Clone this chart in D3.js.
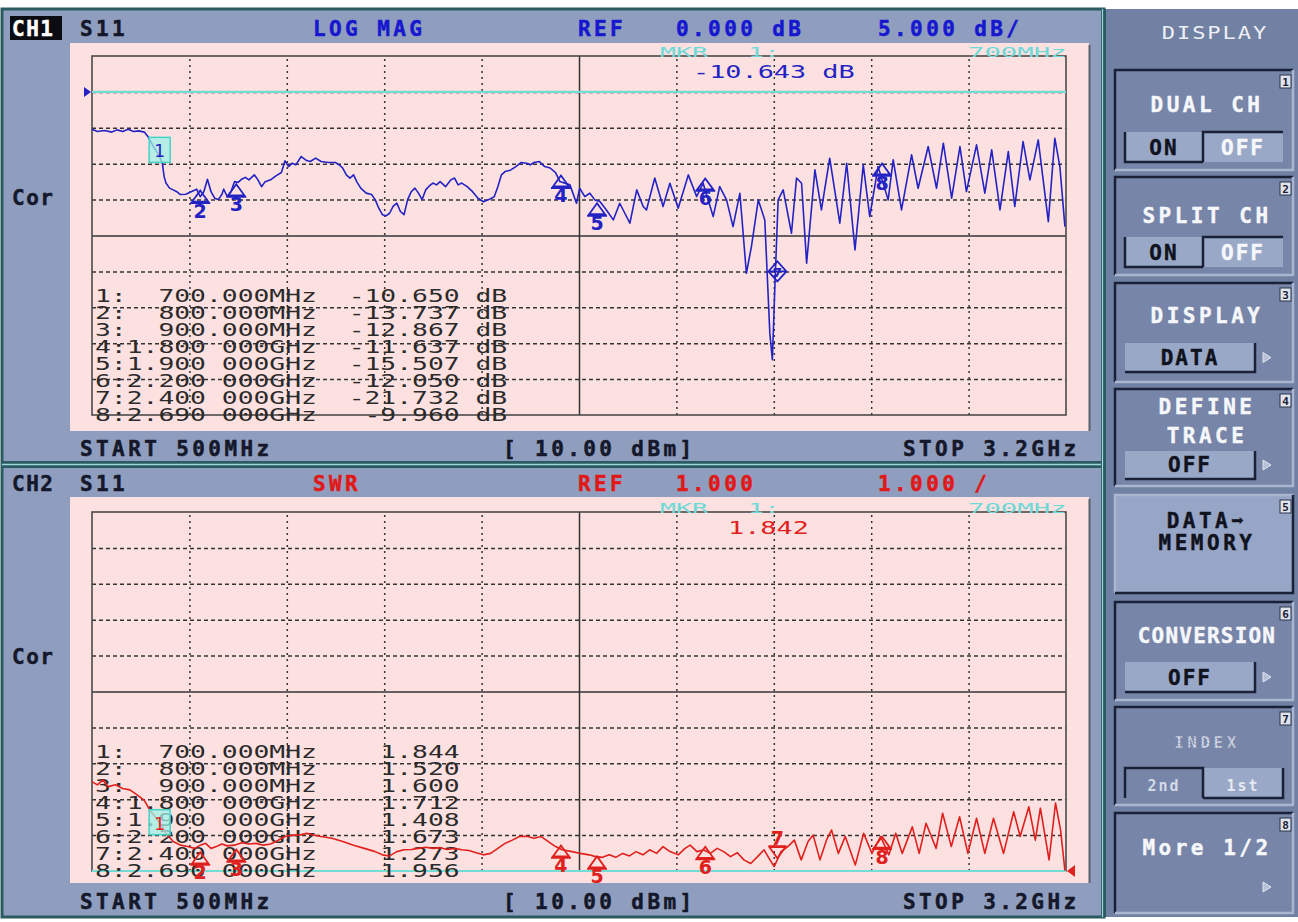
<!DOCTYPE html>
<html>
<head>
<meta charset="utf-8">
<script src="https://cdn.jsdelivr.net/npm/d3@7"></script>
<style>
body { margin: 0; background: #fff; }
svg { display: block; }
text { white-space: pre; }
</style>
</head>
<body>
<script>
var width = 1298, height = 922;

// CH1 : S11 LOG MAG, frequency in MHz, value in dB
var ch1Freq = [500,515,535,555,570,585,600,615,630,645,
  655,670,685,695,700,705,715,725,735,745,
  760,775,790,800,810,820,830,840,850,860,
  865,875,885,895,905,915,925,935,950,960,
  970,980,995,1010,1025,1035,1045,1055,1065,1080,
  1095,1105,1120,1135,1155,1175,1185,1195,1205,1215,
  1225,1235,1245,1260,1275,1285,1295,1305,1315,1325,
  1335,1345,1355,1365,1375,1385,1395,1405,1415,1425,
  1435,1445,1455,1465,1480,1495,1505,1515,1525,1540,
  1555,1570,1585,1600,1615,1625,1635,1645,1660,1675,
  1690,1705,1715,1725,1740,1755,1770,1785,1797,1825,
  1843,1852,1866,1880,1894,1908,1926,1945,1963,1977,
  1991,2010,2028,2037,2060,2083,2102,2125,2153,2176,
  2194,2222,2240,2259,2277,2296,2314,2328,2347,2365,
  2379,2386,2393,2402,2416,2439,2453,2467,2481,2504,
  2522,2545,2573,2592,2615,2638,2656,2679,2707,2721,
  2744,2772,2790,2818,2841,2860,2883,2906,2924,2952,
  2975,2994,3017,3040,3058,3081,3100,3123,3151,3169,
  3183,3197];
var ch1Db = [-5.20,-5.52,-5.38,-5.60,-5.29,-5.52,-5.20,-5.52,-5.43,-5.60,
  -6.20,-7.60,-8.77,-9.93,-11.80,-12.70,-13.40,-13.65,-13.90,-14.30,
  -14.25,-13.90,-13.55,-14.60,-13.90,-12.16,-13.90,-14.80,-15.00,-14.30,
  -13.55,-14.60,-13.90,-12.50,-12.60,-12.16,-11.90,-12.25,-11.55,-12.25,
  -13.20,-12.50,-12.25,-11.70,-11.23,-9.60,-10.40,-9.93,-10.16,-9.00,
  -9.56,-9.70,-9.23,-9.70,-9.83,-9.83,-10.16,-10.60,-11.55,-12.00,
  -11.55,-12.60,-13.40,-14.10,-14.30,-15.00,-16.20,-17.10,-17.26,-16.90,
  -15.90,-15.50,-16.66,-17.10,-15.00,-13.90,-13.40,-14.10,-15.00,-13.65,
  -13.10,-12.70,-12.95,-12.50,-13.20,-12.25,-12.00,-12.95,-12.70,-13.20,
  -13.90,-14.80,-15.30,-15.00,-14.60,-13.20,-11.55,-11.10,-10.90,-10.40,
  -9.83,-9.93,-10.16,-9.83,-9.70,-10.40,-10.60,-11.23,-12.49,-12.95,
  -15.51,-13.42,-14.58,-14.11,-15.04,-15.27,-16.44,-17.83,-15.51,-16.90,
  -18.29,-13.65,-15.97,-16.44,-12.00,-15.97,-12.72,-16.20,-11.56,-14.58,
  -12.72,-17.36,-13.19,-15.04,-18.76,-14.11,-25.26,-21.54,-15.04,-17.83,
  -33.60,-37.30,-27.10,-15.04,-13.65,-19.69,-12.00,-12.72,-23.86,-10.86,
  -16.44,-9.24,-18.29,-9.94,-22.00,-10.17,-17.36,-10.40,-15.04,-9.47,
  -16.44,-8.77,-13.42,-7.61,-13.42,-7.15,-14.81,-7.61,-13.88,-7.38,
  -14.11,-8.08,-16.44,-8.31,-15.97,-6.92,-12.26,-6.69,-18.06,-6.45,
  -10.40,-18.76];

// CH2 : S11 SWR
var ch2Freq = [500,515,530,545,565,585,605,625,645,660,
  675,695,705,725,745,765,785,800,815,830,
  845,860,875,895,915,935,955,975,995,1015,
  1035,1055,1075,1095,1115,1135,1165,1195,1225,1255,
  1285,1305,1325,1345,1365,1385,1405,1425,1445,1465,
  1485,1505,1525,1545,1565,1585,1605,1625,1645,1665,
  1685,1705,1725,1745,1765,1785,1803,1831,1854,1878,
  1896,1915,1934,1952,1971,1990,2008,2027,2046,2065,
  2083,2102,2125,2144,2158,2177,2195,2214,2233,2251,
  2270,2289,2307,2326,2345,2363,2377,2391,2410,2429,
  2447,2466,2485,2499,2518,2536,2550,2569,2588,2616,
  2639,2662,2686,2709,2728,2746,2774,2793,2812,2840,
  2858,2882,2905,2928,2952,2975,2999,3027,3055,3073,
  3097,3115,3129,3153,3171,3185,3197];
var ch2Swr = [3.49,3.40,3.54,3.35,3.40,3.30,3.26,3.12,2.97,2.70,
  2.51,2.23,2.05,1.82,1.72,1.68,1.63,1.72,1.77,1.63,
  1.68,1.75,1.70,1.72,1.79,1.75,1.77,1.72,1.75,1.85,
  1.96,2.00,2.00,2.05,2.00,1.96,1.91,1.82,1.72,1.63,
  1.54,1.45,1.42,1.54,1.59,1.60,1.63,1.66,1.63,1.65,
  1.60,1.63,1.59,1.57,1.51,1.45,1.49,1.63,1.77,1.86,
  1.96,1.97,1.91,1.96,1.82,1.68,1.59,1.54,1.49,1.45,
  1.40,1.38,1.45,1.38,1.49,1.42,1.54,1.45,1.59,1.49,
  1.68,1.54,1.45,1.63,1.72,1.54,1.59,1.49,1.63,1.54,
  1.40,1.51,1.31,1.21,1.40,1.59,1.35,1.12,1.54,1.68,
  1.86,1.31,1.82,2.00,1.31,1.86,2.14,1.49,1.96,1.17,
  2.05,1.49,1.96,1.45,2.05,1.49,2.23,1.49,2.33,1.63,
  2.61,1.68,2.51,1.49,2.47,1.49,2.47,1.49,2.65,1.96,
  2.79,1.86,2.75,1.31,2.89,2.14,1.01];

// markers
var markerFreq = [700, 800, 900, 1800, 1900, 2200, 2400, 2690];
var markerLabel = ["1:  700.000MHz", "2:  800.000MHz", "3:  900.000MHz", "4:1.800 000GHz",
  "5:1.900 000GHz", "6:2.200 000GHz", "7:2.400 000GHz", "8:2.690 000GHz"];
var ch1MarkerDb = ["-10.650", "-13.737", "-12.867", "-11.637", "-15.507", "-12.050", "-21.732", "-9.960"];
var ch2MarkerSwr = ["1.844", "1.520", "1.600", "1.712", "1.408", "1.673", "1.273", "1.956"];
// where the symbols sit on screen (marker 7 of CH1 is drawn lower than its readout)
var ch1SymbolDb = [-10.65, -13.74, -12.87, -11.64, -15.51, -12.05, -25.0, -9.96];

var mono = "'DejaVu Sans Mono', monospace";

var svg = d3.select("body").append("svg")
    .attr("width", width)
    .attr("height", height)
    .style("font-family", mono);

var x = d3.scaleLinear().domain([500, 3200]).range([92, 1066]);
var xTicks = d3.range(11).map(function(i) { return 500 + i * 270; });

// instrument frame
svg.append("rect").attr("x", 2).attr("y", 9).attr("width", 1102).attr("height", 908).attr("fill", "#8f9ebf");
svg.append("rect").attr("x", 2).attr("y", 9).attr("width", 1102).attr("height", 908)
    .attr("fill", "none").attr("stroke", "#2a5b61").attr("stroke-width", 3);
svg.append("rect").attr("x", 2).attr("y", 461).attr("width", 1102).attr("height", 7).attr("fill", "#2a5b61");
svg.append("line").attr("x1", 2).attr("x2", 1104).attr("y1", 464.5).attr("y2", 464.5)
    .attr("stroke", "#9fd7df").attr("stroke-width", 1.5);

function bold(g, px, py, str, color, size, ls) {
    return g.append("text").attr("x", px).attr("y", py).text(str)
        .attr("fill", color).attr("stroke", color).attr("stroke-width", 0.5)
        .attr("font-weight", "bold")
        .attr("font-size", size || 21).attr("letter-spacing", ls === undefined ? 3.4 : ls);
}

// thin stretched screen font
function thin(g, px, py, str, color, size, sx) {
    return g.append("g").attr("transform", "translate(" + px + "," + py + ") scale(" + sx + ",1)")
        .append("text").text(str).attr("fill", color).attr("font-size", size);
}

function channel(c) {
    var g = svg.append("g");
    var y = d3.scaleLinear().domain(c.domain).range([c.gt, c.gb]);

    g.append("rect").attr("x", 70).attr("y", c.pt).attr("width", 1019).attr("height", c.pb - c.pt).attr("fill", "#fde1e1");
    g.append("line").attr("x1", 1089.5).attr("x2", 1089.5).attr("y1", c.pt + 2).attr("y2", c.pb)
        .attr("stroke", "#5b5f6e").attr("stroke-width", 2);

    // header
    if (c.inverse) {
        g.append("rect").attr("x", 10).attr("y", c.hy - 20).attr("width", 52).attr("height", 24).attr("fill", "#0b0b12");
        bold(g, 12, c.hy, c.name, "#fff", 21, 1.5);
    } else {
        bold(g, 12, c.hy, c.name, "#14182a", 21, 1.5);
    }
    bold(g, 80, c.hy, "S11", "#14182a");
    bold(g, 313, c.hy, c.format, c.headColor);
    bold(g, 578, c.hy, "REF", c.headColor);
    bold(g, 676, c.hy, c.ref, c.headColor);
    bold(g, 878, c.hy, c.scale, c.headColor);
    bold(g, 12, c.cory, "Cor", "#14182a", 21, 1.5);

    // footer
    bold(g, 80, c.fy, "START 500MHz", "#14182a");
    bold(g, 503, c.fy, "[ 10.00 dBm]", "#14182a");
    bold(g, 903, c.fy, "STOP 3.2GHz", "#14182a");

    // grid
    var yTicks = d3.range(11).map(function(i) { return c.domain[0] + (c.domain[1] - c.domain[0]) * i / 10; });
    g.append("g").attr("transform", "translate(0," + c.gb + ")")
        .call(d3.axisBottom(x).tickValues(xTicks.slice(1, -1)).tickSize(-(c.gb - c.gt)).tickFormat(""))
        .call(function(a) { a.select(".domain").remove(); })
        .selectAll("line")
        .attr("stroke", "#333").attr("stroke-width", 1.5)
        .attr("stroke-dasharray", function(d) { return d === 1850 ? null : "2,4"; });
    g.append("g").attr("transform", "translate(92,0)")
        .call(d3.axisLeft(y).tickValues(yTicks.slice(1, -1)).tickSize(-974).tickFormat(""))
        .call(function(a) { a.select(".domain").remove(); })
        .selectAll("line")
        .attr("stroke", "#333").attr("stroke-width", 1.5)
        .attr("stroke-dasharray", function(d, i) { return i === 4 ? null : "4,3"; });
    g.append("rect").attr("x", 92).attr("y", c.gt).attr("width", 974).attr("height", c.gb - c.gt)
        .attr("fill", "none").attr("stroke", "#4a4a4a").attr("stroke-width", 1.6);

    // reference line
    g.append("line").attr("x1", 92).attr("x2", 1066).attr("y1", y(c.refVal)).attr("y2", y(c.refVal))
        .attr("stroke", "#74dcd4").attr("stroke-width", 2.2);

    // marker readout
    thin(g, 660, c.gt + 1, "MKR", "#6fd9d6", 14, 1.9);
    thin(g, 748, c.gt + 1, "1:", "#6fd9d6", 14, 1.9);
    thin(g, 968, c.gt + 1, "700MHz", "#6fd9d6", 14, 1.95);
    thin(g, c.readX, c.gt + 22, c.readout, c.traceColor, 17, 1.58);

    // table
    markerLabel.forEach(function(lab, i) {
        var row = c.table(lab, i);
        thin(g, 95, c.gt + 246 + 17 * i, row, "#2a2a2a", 17, 1.55);
    });

    // trace
    var line = d3.line()
        .x(function(d) { return x(d[0]); })
        .y(function(d) { return y(d[1]); });
    g.append("path").datum(d3.zip(c.freq, c.vals)).attr("d", line)
        .attr("fill", "none").attr("stroke", c.traceColor).attr("stroke-width", 1.6)
        .attr("stroke-linejoin", "round");

    // marker symbols
    markerFreq.forEach(function(f, i) {
        var mx = x(f), my = y(c.sym[i]);
        var m = g.append("g").attr("fill", "none").attr("stroke", c.traceColor).attr("stroke-width", 1.8);
        if (i === 0) {
            g.append("rect").attr("x", mx - 15).attr("y", my - 31).attr("width", 21).attr("height", 25)
                .attr("fill", "#9ff0e6").attr("fill-opacity", 0.75).attr("stroke", "#45d2c8").attr("stroke-width", 1.5);
            g.append("text").attr("x", mx - 4.5).attr("y", my - 11).attr("text-anchor", "middle")
                .attr("font-family", "'DejaVu Sans', sans-serif").attr("font-size", 17)
                .attr("fill", c.boxText).text("1");
            return;
        }
        if (i === 6 && c.diamond) {
            m.append("path").attr("d", "M" + mx + "," + (my - 10) + "L" + (mx + 9) + "," + my + "L" + mx + "," + (my + 10) +
                "L" + (mx - 9) + "," + my + "Z M" + (mx - 9) + "," + my + "H" + (mx + 9));
            g.append("text").attr("x", mx).attr("y", my + 6).attr("text-anchor", "middle")
                .attr("font-family", "'DejaVu Sans', sans-serif").attr("font-weight", "bold").attr("font-size", 13)
                .attr("fill", c.traceColor).text("7");
            return;
        }
        if (i === 6) {
            m.append("path").attr("d", "M" + mx + "," + (my - 3) + "L" + (mx + 8) + "," + (my - 14) + "L" + (mx - 8) + "," + (my - 14) +
                "Z M" + (mx - 9) + "," + (my - 15) + "H" + (mx + 9));
            g.append("text").attr("x", mx).attr("y", my - 16).attr("text-anchor", "middle")
                .attr("font-family", "'DejaVu Sans', sans-serif").attr("font-weight", "bold").attr("font-size", 19)
                .attr("fill", c.traceColor).text("7");
            return;
        }
        m.append("path").attr("d", "M" + mx + "," + my + "L" + (mx + 8) + "," + (my + 11) + "L" + (mx - 8) + "," + (my + 11) +
            "Z M" + (mx - 10) + "," + (my + 12.5) + "H" + (mx + 10));
        g.append("text").attr("x", mx).attr("y", my + 27).attr("text-anchor", "middle")
            .attr("font-family", "'DejaVu Sans', sans-serif").attr("font-weight", "bold").attr("font-size", 19)
            .attr("fill", c.traceColor).text(i + 1);
    });

    // reference position arrow
    if (c.refArrowLeft) {
        g.append("path").attr("d", "M84," + (y(c.refVal) - 5) + "L91," + y(c.refVal) + "L84," + (y(c.refVal) + 5) + "Z")
            .attr("fill", c.traceColor);
    } else {
        g.append("path").attr("d", "M1075," + (y(c.refVal) - 6) + "L1067," + y(c.refVal) + "L1075," + (y(c.refVal) + 6) + "Z")
            .attr("fill", c.traceColor);
    }
}

channel({
    name: "CH1", inverse: true, hy: 36, cory: 205, fy: 456,
    pt: 43, pb: 431, gt: 56, gb: 415,
    domain: [5, -45], refVal: 0,
    format: "LOG MAG", ref: "0.000 dB", scale: "5.000 dB/", headColor: "#1717cf",
    traceColor: "#2323c4", boxText: "#2323c4",
    readX: 693, readout: "-10.643 dB",
    table: function(lab, i) { return lab + "  " + ch1MarkerDb[i].padStart(7) + " dB"; },
    freq: ch1Freq, vals: ch1Db, sym: ch1SymbolDb, diamond: true, refArrowLeft: true
});

channel({
    name: "CH2", inverse: false, hy: 491, cory: 664, fy: 909,
    pt: 497, pb: 883, gt: 512, gb: 871,
    domain: [11, 1], refVal: 1,
    format: "SWR", ref: "1.000", scale: "1.000 /", headColor: "#e01818",
    traceColor: "#e0201c", boxText: "#e0201c",
    readX: 728, readout: "1.842",
    table: function(lab, i) { return lab + "    " + ch2MarkerSwr[i]; },
    freq: ch2Freq, vals: ch2Swr, sym: ch2MarkerSwr.map(Number), diamond: false, refArrowLeft: false
});

// softkey panel
var panel = svg.append("g");
panel.append("rect").attr("x", 1104).attr("y", 9).attr("width", 194).attr("height", 908).attr("fill", "#7181a3");
panel.append("rect").attr("x", 1101).attr("y", 9).attr("width", 5).attr("height", 908).attr("fill", "#2a5b61");
panel.append("line").attr("x1", 1102.5).attr("x2", 1102.5).attr("y1", 9).attr("y2", 917)
    .attr("stroke", "#9fd7df").attr("stroke-width", 1.2);
panel.append("g").attr("transform", "translate(1215,39) scale(1.3,1)")
    .append("text").attr("text-anchor", "middle").attr("font-size", 17).attr("letter-spacing", 1.5)
    .attr("fill", "#eef0f6").text("DISPLAY");

var keys = [
    { n: 1, y0: 70, y1: 170, title: ["DUAL CH"], ty: [112], toggle: ["ON", "OFF"], by: [132, 162] },
    { n: 2, y0: 177, y1: 275, title: ["SPLIT CH"], ty: [223], toggle: ["ON", "OFF"], by: [237, 267] },
    { n: 3, y0: 283, y1: 382, title: ["DISPLAY"], ty: [323], value: "DATA", by: [343, 372] },
    { n: 4, y0: 389, y1: 486, title: ["DEFINE", "TRACE"], ty: [414, 443], value: "OFF", by: [451, 479] },
    { n: 5, y0: 495, y1: 593, title: ["DATA\u27A1", "MEMORY"], ty: [528, 550], raised: true },
    { n: 6, y0: 602, y1: 700, title: ["CONVERSION"], ty: [643], value: "OFF", by: [662, 692] },
    { n: 7, y0: 707, y1: 805, title: ["INDEX"], ty: [748], toggle: ["2nd", "1st"], by: [768, 798], disabled: true },
    { n: 8, y0: 813, y1: 913, title: ["More 1/2"], ty: [855], arrowY: 887 }
];

keys.forEach(function(k) {
    var g = panel.append("g");
    g.append("rect").attr("x", 1115).attr("y", k.y0).attr("width", 178).attr("height", k.y1 - k.y0)
        .attr("fill", k.raised ? "#97a5c6" : "#7685a8");
    var dark = "#1a2136", light = "#aab6cf";
    g.append("path").attr("d", "M1115," + k.y1 + "V" + k.y0 + "H1293")
        .attr("fill", "none").attr("stroke", k.raised ? light : dark).attr("stroke-width", 2.5);
    g.append("path").attr("d", "M1115," + k.y1 + "H1293V" + k.y0)
        .attr("fill", "none").attr("stroke", k.raised ? dark : light).attr("stroke-width", 2.5);

    // number tab
    g.append("rect").attr("x", 1280).attr("y", k.y0 + 5).attr("width", 11).attr("height", 13)
        .attr("fill", "#dfe3ec").attr("stroke", "#2a3248").attr("stroke-width", 1);
    g.append("text").attr("x", 1285.5).attr("y", k.y0 + 16).attr("text-anchor", "middle")
        .attr("font-size", 11).attr("font-weight", "bold").attr("fill", "#1a2136").text(k.n);

    k.title.forEach(function(t, i) {
        var col = k.raised ? "#10131d" : "#f6f7fb";
        var tt = g.append("text").attr("x", 1207).attr("y", k.ty[i]).attr("text-anchor", "middle")
            .attr("font-weight", "bold").attr("font-size", k.disabled ? 16 : 21)
            .attr("letter-spacing", t.length > 8 ? 1.2 : 3.5)
            .attr("fill", col).attr("stroke", col).attr("stroke-width", 0.4).text(t);
        if (k.disabled) tt.attr("fill", "#d4d9e6").attr("stroke", "#7685a8").attr("stroke-width", 1)
            .attr("stroke-dasharray", "1.5,1.5");
    });

    if (k.toggle) {
        var h = k.by[1] - k.by[0];
        g.append("rect").attr("x", 1125).attr("y", k.by[0]).attr("width", 158).attr("height", h)
            .attr("fill", "#9aa8c8");
        if (k.disabled) {
            g.append("rect").attr("x", 1125).attr("y", k.by[0]).attr("width", 78).attr("height", h).attr("fill", "#7685a8");
            g.append("path").attr("d", "M1125," + k.by[1] + "V" + k.by[0] + "H1203V" + k.by[1])
                .attr("fill", "none").attr("stroke", dark).attr("stroke-width", 2.5);
            g.append("path").attr("d", "M1203," + k.by[1] + "H1283V" + k.by[0])
                .attr("fill", "none").attr("stroke", dark).attr("stroke-width", 2.5);
        } else {
            g.append("path").attr("d", "M1125," + k.by[0] + "V" + k.by[1] + "H1203")
                .attr("fill", "none").attr("stroke", dark).attr("stroke-width", 2.5);
            g.append("path").attr("d", "M1203," + k.by[1] + "V" + k.by[0] + "H1283")
                .attr("fill", "none").attr("stroke", dark).attr("stroke-width", 2.5);
        }
        var fs = k.disabled ? 15 : 21;
        var c0 = k.disabled ? "#d4d9e6" : "#10131d", c1 = k.disabled ? "#e6e9f0" : "#f6f7fb";
        g.append("text").attr("x", 1164).attr("y", k.by[1] - 7).attr("text-anchor", "middle")
            .attr("font-weight", "bold").attr("font-size", fs).attr("letter-spacing", 2)
            .attr("fill", c0).attr("stroke", c0).attr("stroke-width", k.disabled ? 0 : 0.4).text(k.toggle[0]);
        g.append("text").attr("x", 1243).attr("y", k.by[1] - 7).attr("text-anchor", "middle")
            .attr("font-weight", "bold").attr("font-size", fs).attr("letter-spacing", 2)
            .attr("fill", c1).attr("stroke", c1).attr("stroke-width", k.disabled ? 0 : 0.4).text(k.toggle[1]);
    }

    if (k.value) {
        g.append("rect").attr("x", 1125).attr("y", k.by[0]).attr("width", 130).attr("height", k.by[1] - k.by[0])
            .attr("fill", "#9aa8c8");
        g.append("path").attr("d", "M1125," + k.by[1] + "H1255V" + k.by[0])
            .attr("fill", "none").attr("stroke", dark).attr("stroke-width", 2.5);
        g.append("text").attr("x", 1190).attr("y", k.by[1] - 7).attr("text-anchor", "middle")
            .attr("font-weight", "bold").attr("font-size", 21).attr("letter-spacing", 2)
            .attr("fill", "#10131d").attr("stroke", "#10131d").attr("stroke-width", 0.4).text(k.value);
        k.arrowY = (k.by[0] + k.by[1]) / 2;
    }

    if (k.arrowY) {
        g.append("path").attr("d", "M1263," + (k.arrowY - 5) + "L1271," + k.arrowY + "L1263," + (k.arrowY + 5) + "Z")
            .attr("fill", "#b6c0d6").attr("stroke", "#dfe4ee").attr("stroke-width", 1);
    }
});
</script>
</body>
</html>
